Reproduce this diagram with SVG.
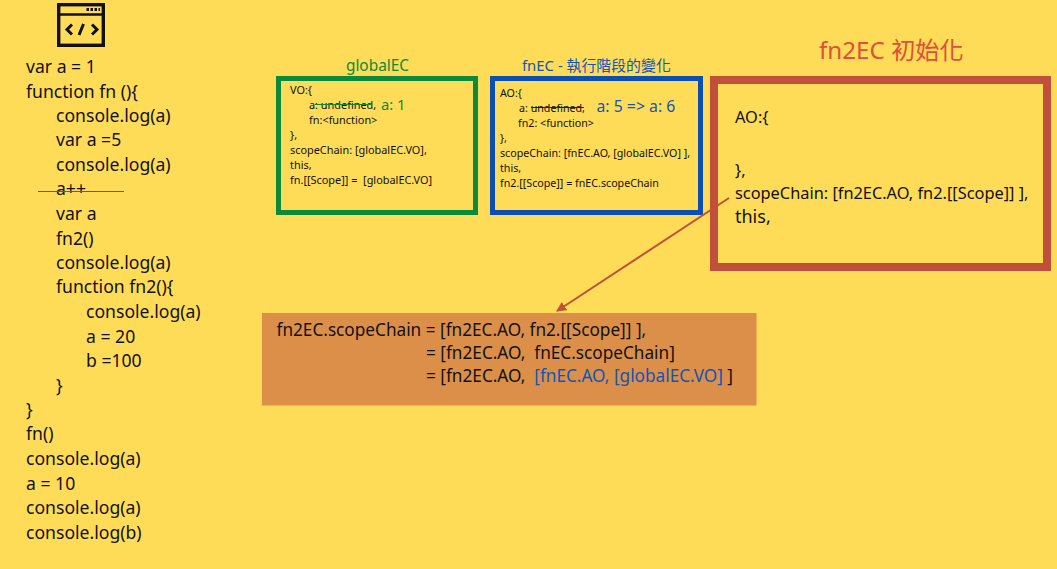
<svg xmlns="http://www.w3.org/2000/svg" width="1057" height="569" viewBox="0 0 1057 569">
<style>
text{font-family:"Noto Sans","Noto Sans CJK TC",sans-serif;fill:#111;white-space:pre}
.code{font-size:17.6px}
.sm{font-size:10.7px}
.smg{font-size:10.9px}
.big{font-size:16.35px}
.orange{font-size:17.2px}
.green{fill:#0b8a3c}
.blue{fill:#1155b8}
.red{fill:#e04f3a}
</style>
<defs><marker id="ah" markerWidth="12" markerHeight="12" refX="9" refY="5" orient="auto" markerUnits="userSpaceOnUse"><path d="M0 0L10 5L0 10Z" fill="#c0503c"/></marker></defs>
<rect width="1057" height="569" fill="#ffdc58"/>
<g id="icon" fill="none" stroke="#111">
<rect x="58.700" y="4.700" width="44.600" height="40.600" stroke-width="3.400"/>
<path d="M58 14.500H104" stroke-width="2.600"/>
<path d="M72 24.500L67 29.500L72 34.500M92 24.500L97 29.500L92 34.500M83.500 24L79 35" stroke-width="3"/>
<path d="M86.500 9.500H100" stroke-width="3" stroke-dasharray="2.500 1.500"/>
</g>
<g id="code" class="code">
<text x="26" y="73">var a = 1</text>
<text x="26" y="97.500">function fn (){</text>
<text x="56" y="121.500">console.log(a)</text>
<text x="56" y="146">var a =5</text>
<text x="56" y="170.500">console.log(a)</text>
<text x="56" y="195">a++</text>
<text x="56" y="219.500">var a</text>
<text x="56" y="244.500">fn2()</text>
<text x="56" y="268.500">console.log(a)</text>
<text x="56" y="293">function fn2(){</text>
<text x="86" y="317.500">console.log(a)</text>
<text x="86" y="342.500">a = 20</text>
<text x="86" y="366.500">b =100</text>
<text x="56" y="391.500">}</text>
<text x="26" y="415.500">}</text>
<text x="26" y="440">fn()</text>
<text x="26" y="465">console.log(a)</text>
<text x="26" y="489.500">a = 10</text>
<text x="26" y="514">console.log(a)</text>
<text x="26" y="539">console.log(b)</text>
</g>
<g id="globalEC">
<text class="green" x="377.500" y="71" text-anchor="middle" font-size="15.400">globalEC</text>
<rect x="278.500" y="78.500" width="197" height="134" fill="none" stroke="#0b8a3c" stroke-width="5"/>
<g class="smg">
<text x="290" y="94">VO:{</text>
<text x="309" y="109">a: undefined,</text>
<text x="309" y="124">fn:&lt;function&gt;</text>
<text x="290" y="139">},</text>
<text x="290" y="154">scopeChain: [globalEC.VO],</text>
<text x="290" y="169">this,</text>
<text x="290" y="184">fn.[[Scope]] =  [globalEC.VO]</text>
</g>
<text class="green" x="381" y="110" font-size="14.800">a: 1</text>
</g>
<g id="fnEC">
<text class="blue" x="522" y="71" font-size="14.900">fnEC - 執行階段的變化</text>
<rect x="492.500" y="78.500" width="208" height="134" fill="none" stroke="#0b4fb3" stroke-width="5"/>
<g class="sm">
<text x="500" y="97">AO:{</text>
<text x="519" y="112">a: undefined,</text>
<text x="518" y="127">fn2: &lt;function&gt;</text>
<text x="500" y="142">},</text>
<text x="500" y="157">scopeChain: [fnEC.AO, [globalEC.VO] ],</text>
<text x="500" y="172">this,</text>
<text x="500" y="186.500">fn2.[[Scope]] = fnEC.scopeChain</text>
</g>
<text class="blue" x="596.500" y="112" font-size="15.800">a: 5 =&gt; a: 6</text>
</g>
<g id="fn2EC">
<text class="red" x="819" y="59" font-size="24.200">fn2EC 初始化</text>
<rect x="714" y="80" width="333" height="187" fill="#ffdc58" stroke="#c0503c" stroke-width="8"/>
<text class="big" x="735" y="123">AO:{</text>
<text class="big" x="735" y="176">},</text>
<text class="big" x="735" y="199">scopeChain: [fn2EC.AO, fn2.[[Scope]] ],</text>
<text x="735" y="223" font-size="18">this,</text>
</g>
<g id="scopeChain">
<rect x="262" y="313" width="494.500" height="92.500" fill="#dc8f48"/>
<text class="orange" x="276.500" y="336">fn2EC.scopeChain = [fn2EC.AO, fn2.[[Scope]] ],</text>
<text class="orange" x="426" y="358.500">= [fn2EC.AO,  fnEC.scopeChain]</text>
<text class="orange" x="426" y="381.500">= [fn2EC.AO,  <tspan class="blue">[fnEC.AO, [globalEC.VO]</tspan> ]</text>
</g>
<g id="connectors" fill="none">
<path d="M729 198L557 311" stroke="#c0503c" stroke-width="2" marker-end="url(#ah)"/>
<path d="M38 191.500H124" stroke="#2f6b8f" stroke-width="1"/>
<path d="M315 104.500H372" stroke="#0b8a3c" stroke-width="1"/>
<path d="M531 107.500H584" stroke="#222" stroke-width="1"/>
</g>
</svg>
